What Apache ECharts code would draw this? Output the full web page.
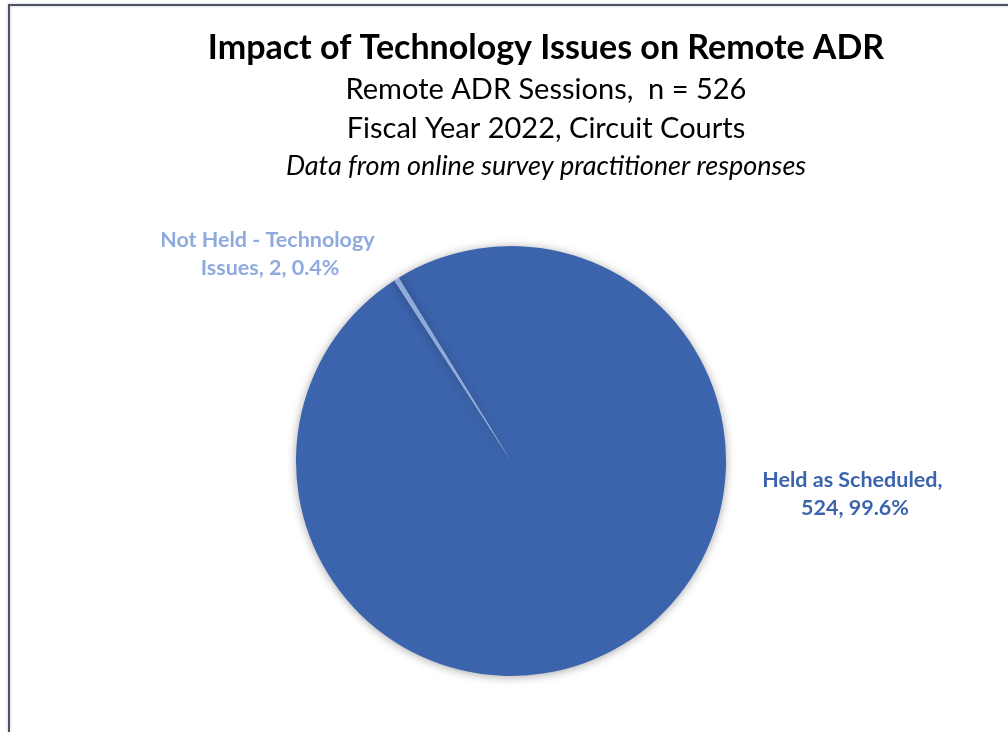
<!DOCTYPE html>
<html>
<head>
<meta charset="utf-8">
<title>Impact of Technology Issues on Remote ADR</title>
<script src="https://cdn.jsdelivr.net/npm/echarts@6/dist/echarts.min.js"></script>
<style>
  html, body { margin: 0; padding: 0; background: #ffffff; }
  #chart { width: 1008px; height: 732px; }
</style>
</head>
<body>
<div id="chart"></div>
<script>
// Session outcomes for remote ADR, FY2022 circuit courts
const categories = ['Held as Scheduled', 'Not Held - Technology Issues'];
const sessions = [524, 2];
const sliceColors = ['#3C64AC', '#8FAADC'];

const titleLines = [
  'Impact of Technology Issues on Remote ADR',
  'Remote ADR Sessions,  n = 526',
  'Fiscal Year 2022, Circuit Courts',
  'Data from online survey practitioner responses'
];

const FONT = 'Lato, "Open Sans", "Liberation Sans", sans-serif';

const chart = echarts.init(document.getElementById('chart'), null, { renderer: 'canvas' });

const pieData = categories.map((name, i) => ({
  name: name,
  value: sessions[i],
  itemStyle: { color: sliceColors[i] },
  label: {
    color: sliceColors[i],
    width: i === 0 ? 200 : 240
  }
}));

chart.setOption({
  backgroundColor: '#ffffff',
  animation: false,
  graphic: [
    {
      type: 'rect',
      shape: { x: 9, y: 5, width: 1200, height: 1000 },
      style: { fill: 'none', stroke: '#4A5366', lineWidth: 2,
               shadowBlur: 3, shadowColor: 'rgba(0,0,0,0.25)' },
      silent: true
    },
    {
      type: 'text', x: 546, y: 48,
      style: { text: titleLines[0], font: 'bold 34px ' + FONT, fill: '#000000',
               textAlign: 'center', textVerticalAlign: 'middle' }
    },
    {
      type: 'text', x: 546, y: 90,
      style: { text: titleLines[1], font: '29px ' + FONT, fill: '#000000',
               textAlign: 'center', textVerticalAlign: 'middle' }
    },
    {
      type: 'text', x: 546, y: 129,
      style: { text: titleLines[2], font: '29px ' + FONT, fill: '#000000',
               textAlign: 'center', textVerticalAlign: 'middle' }
    },
    {
      type: 'text', x: 546, y: 166,
      style: { text: titleLines[3], font: 'italic 27px ' + FONT, fill: '#000000',
               textAlign: 'center', textVerticalAlign: 'middle' }
    }
  ],
  series: [
    {
      type: 'pie',
      center: [511, 461],
      radius: 215,
      startAngle: 121.5,
      clockwise: true,
      percentPrecision: 1,
      data: pieData,
      itemStyle: {
        borderWidth: 0,
        shadowBlur: 10,
        shadowColor: 'rgba(0,0,0,0.35)',
        shadowOffsetX: 0,
        shadowOffsetY: 1
      },
      label: {
        show: true,
        position: 'outside',
        formatter: p => p.name + ', ' + p.value + ', ' + p.percent.toFixed(1) + '%',
        overflow: 'break',
        fontFamily: FONT,
        fontWeight: 'bold',
        fontSize: 21.5,
        lineHeight: 28,
        align: 'center'
      },
      labelLine: { show: false },
      labelLayout: function (params) {
        if (params.dataIndex === 0) {
          return { x: 855, y: 494, align: 'center', verticalAlign: 'middle' };
        }
        return { x: 270, y: 254, align: 'center', verticalAlign: 'middle' };
      },
      emphasis: { disabled: true }
    }
  ]
});
</script>
</body>
</html>
